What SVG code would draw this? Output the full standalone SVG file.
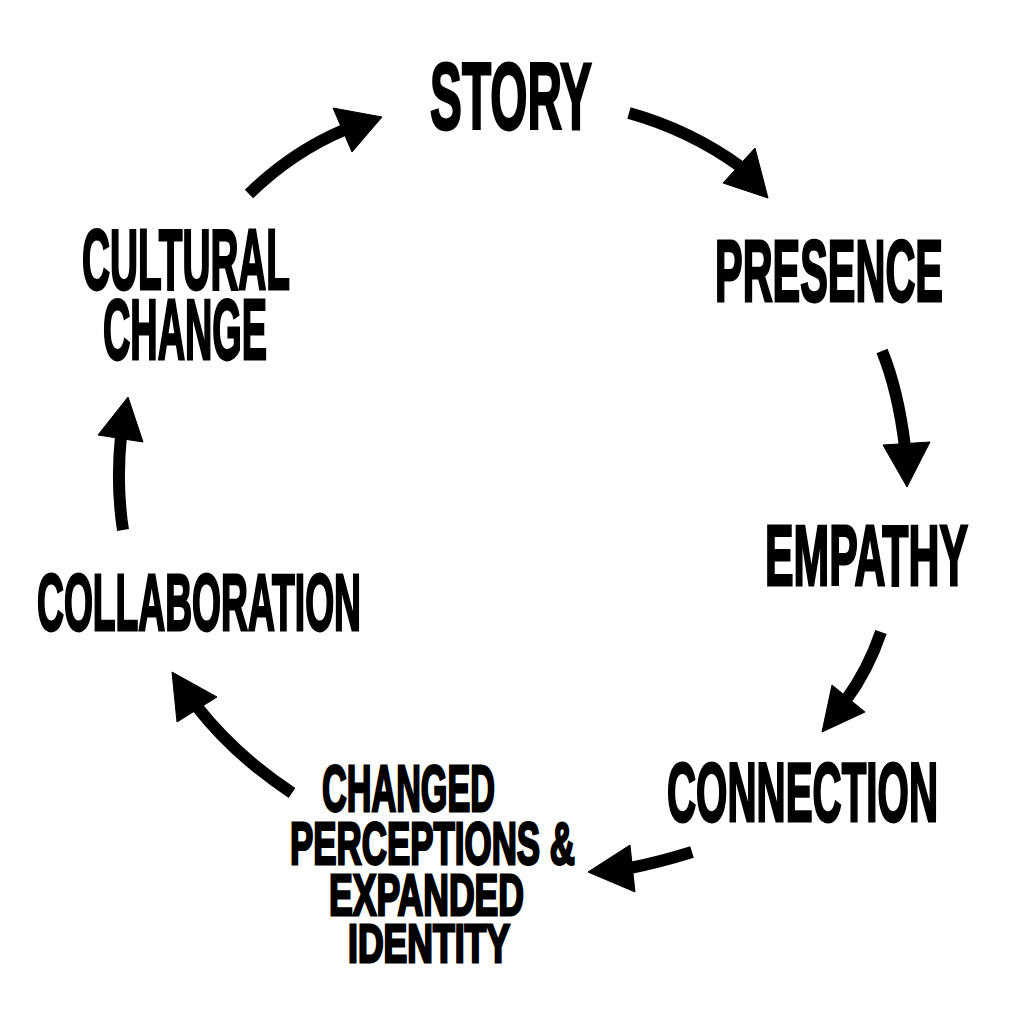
<svg xmlns="http://www.w3.org/2000/svg" width="1024" height="1024" viewBox="0 0 1024 1024">
<style>
text{font-family:"Liberation Sans","Arial",sans-serif;font-weight:bold;fill:#000;stroke:#000;stroke-width:2.8;stroke-linejoin:miter}
.shaft{fill:none;stroke:#000;stroke-width:12;stroke-linecap:butt}
.head{fill:#000;stroke:#000;stroke-width:1;stroke-linejoin:miter}
</style>
<rect width="1024" height="1024" fill="#fff"/>
<g id="connectors">
<path class="shaft" d="M249,194 Q292,152 344,130"/>
<polygon class="head" points="382,117 333,108 352,152"/>
<path class="shaft" d="M629,113 Q690,130 741,167"/>
<polygon class="head" points="768,198 755,148 723,183"/>
<path class="shaft" d="M882,351 Q898,390 905,447"/>
<polygon class="head" points="907,487 883,445 930,442"/>
<path class="shaft" d="M881,632 Q868,670 846,700"/>
<polygon class="head" points="822,732 832,685 865,712"/>
<path class="shaft" d="M692,852 Q660,862 630,868"/>
<polygon class="head" points="588,872 630,845 635,892"/>
<path class="shaft" d="M292,793 Q235,755 198,708"/>
<polygon class="head" points="172,672 217,697 177,722"/>
<path class="shaft" d="M123,530 Q116,485 121,436"/>
<polygon class="head" points="128,397 98,435 143,442"/>
</g>
<g id="story"><text x="430" y="129" font-size="95" textLength="162" lengthAdjust="spacingAndGlyphs">STORY</text></g>
<g id="presence"><text x="715" y="301" font-size="87" textLength="228" lengthAdjust="spacingAndGlyphs">PRESENCE</text></g>
<g id="empathy"><text x="765" y="585" font-size="85" textLength="203" lengthAdjust="spacingAndGlyphs">EMPATHY</text></g>
<g id="connection"><text x="667" y="821" font-size="83" textLength="271" lengthAdjust="spacingAndGlyphs">CONNECTION</text></g>
<g id="changed-perceptions">
<text x="322" y="811" font-size="65" textLength="173" lengthAdjust="spacingAndGlyphs">CHANGED</text>
<text x="290" y="864" font-size="60" textLength="285" lengthAdjust="spacingAndGlyphs">PERCEPTIONS &amp;</text>
<text x="329" y="915" font-size="58" textLength="195" lengthAdjust="spacingAndGlyphs">EXPANDED</text>
<text x="348" y="962" font-size="53" textLength="162" lengthAdjust="spacingAndGlyphs">IDENTITY</text>
</g>
<g id="collaboration"><text x="37" y="630" font-size="80" textLength="324" lengthAdjust="spacingAndGlyphs">COLLABORATION</text></g>
<g id="cultural-change">
<text x="82" y="289" font-size="85" textLength="208" lengthAdjust="spacingAndGlyphs">CULTURAL</text>
<text x="103" y="359" font-size="86" textLength="164" lengthAdjust="spacingAndGlyphs">CHANGE</text>
</g>
</svg>
